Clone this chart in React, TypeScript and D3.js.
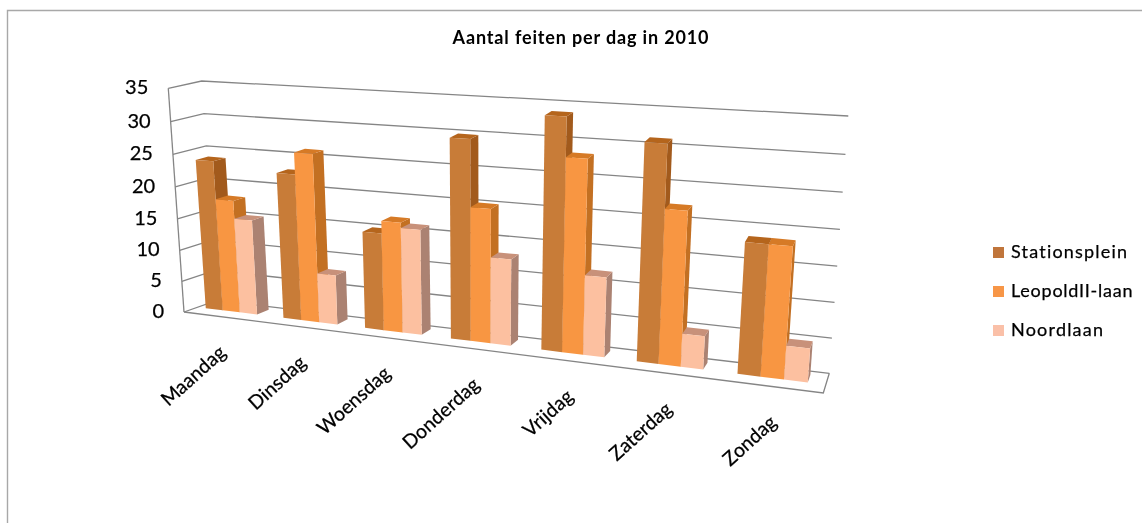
import React from "react";
import * as d3 from "d3";

const categories = ["Maandag", "Dinsdag", "Woensdag", "Donderdag", "Vrijdag", "Zaterdag", "Zondag"];
const seriesNames = ["Stationsplein", "LeopoldII-laan", "Noordlaan"];
const stationsplein = [23.7, 22.7, 14.9, 29.8, 33.8, 31, 18.5];
const leopold = [17.8, 26, 16.8, 20, 28.2, 22.1, 18.5];
const noordlaan = [15, 7.7, 16, 12.9, 11.7, 4.8, 4.8];
const seriesValues = [stationsplein, leopold, noordlaan];
const ticks = [0, 5, 10, 15, 20, 25, 30, 35];
const faceColors = ["#c87b37", "#f89642", "#fcc0a0"];
const sideColors = ["#a25a1c", "#c36f24", "#ab8272"];
const topColors = ["#b5651f", "#d67a26", "#c8917a"];
const legendColors = ["#c0753a", "#f79646", "#fac0a8"];
const labelFont = "Lato, 'Open Sans', sans-serif";

type Pt = [number, number];
// corners of the plot box: [x-fraction][value-fraction][depth]
const FBL: Pt = [184, 312], FBR: Pt = [823.3, 393], BBL: Pt = [217, 300.5], BBR: Pt = [829.3, 373.3];
const FTL: Pt = [168.3, 88.3], FTR: Pt = [843, 130], BTL: Pt = [201.7, 81], BTR: Pt = [848.3, 116];
const lerp = (a: Pt, b: Pt, f: number): Pt => [a[0] + (b[0] - a[0]) * f, a[1] + (b[1] - a[1]) * f];
const persp = (u: number, w: number) => u / (w - (w - 1) * u);

const valueScale = d3.scaleLinear().domain([0, 35]).range([0, 1]);
const project = (u: number, v: number, d: number): Pt => {
  const t = persp(u, 1.2);
  const f = persp(valueScale(v), 1.05);
  const fb = lerp(FBL, FBR, t), ft = lerp(FTL, FTR, t), bb = lerp(BBL, BBR, t), bt = lerp(BTL, BTR, t);
  return lerp(lerp(fb, ft, f), lerp(bb, bt, f), d);
};

const catScale = d3.scaleBand<string>().domain(categories).range([-0.009, 1]).paddingInner(0.334).paddingOuter(0.167);
const serScale = d3.scaleBand<string>().domain(seriesNames).range([0, catScale.bandwidth()]);
const D0 = 0.42, D1 = 0.8;
const poly = d3.line<Pt>().curve(d3.curveLinearClosed);
const GRID = "#858585";

export default function App() {
  return (
    <svg width={1142} height={523} style={{ position: "absolute", left: 0, top: 0, background: "#fff" }}>
      <defs>
        <filter id="soft" x="0" y="0" width="100%" height="100%" filterUnits="userSpaceOnUse">
          <feGaussianBlur stdDeviation={0.55} />
        </filter>
      </defs>
      <g filter="url(#soft)">
        <rect width={1142} height={523} fill="#fff" />
        <path d="M7.5,523V10.5H1142" fill="none" stroke="#a8a8a8" strokeWidth={1.4} />
        <text x={581} y={44} textAnchor="middle" fontFamily={labelFont} fontWeight={700} fontSize={18} letterSpacing={0.85} fill="#000">
          Aantal feiten per dag in 2010
        </text>
        {/* walls */}
        {ticks.map((t) => {
          const a = project(0, t, 0), b = project(0, t, 1), c = project(1, t, 1);
          return <path key={t} d={d3.line()([a, b, c]) as string} fill="none" stroke={GRID} strokeWidth={1.3} />;
        })}
        <path d={d3.line()([project(0, 0, 0), project(0, 35, 0)]) as string} stroke={GRID} strokeWidth={1.3} fill="none" />
        <path d={d3.line()([project(0, 0, 0), project(1, 0, 0), project(1, 0, 1)]) as string} stroke={GRID} strokeWidth={1.3} fill="none" />
        {/* bars */}
        {categories.map((c, ci) => (
          <g key={c}>
            {seriesNames.map((s, si) => {
              const u0 = (catScale(c) as number) + (serScale(s) as number);
              const u1 = u0 + serScale.bandwidth();
              const v = seriesValues[si][ci];
              const side = [project(u1, 0, D0), project(u1, 0, D1), project(u1, v, D1), project(u1, v, D0)] as Pt[];
              const top = [project(u0, v, D0), project(u1, v, D0), project(u1, v, D1), project(u0, v, D1)] as Pt[];
              const front = [project(u0, 0, D0), project(u1, 0, D0), project(u1, v, D0), project(u0, v, D0)] as Pt[];
              return (
                <g key={s}>
                  <path d={poly(side) as string} fill={sideColors[si]} />
                  <path d={poly(top) as string} fill={topColors[si]} />
                  <path d={poly(front) as string} fill={faceColors[si]} />
                </g>
              );
            })}
          </g>
        ))}
        {/* value axis */}
        {ticks.map((t) => {
          const p = project(0, t, 0);
          return (
            <text key={t} x={p[0] - 20} y={p[1] + 6} textAnchor="end" fontFamily={labelFont} fontSize={20} stroke="#000" strokeWidth={0.25} fill="#000">
              {t}
            </text>
          );
        })}
        {/* category axis */}
        {categories.map((c) => {
          const p = project((catScale(c) as number) + catScale.bandwidth() / 2, 0, 0);
          return (
            <text
              key={c}
              transform={`translate(${p[0] + 9},${p[1] + 38}) rotate(-42)`}
              textAnchor="end"
              fontFamily={labelFont}
              fontSize={19.5}
              stroke="#000"
              strokeWidth={0.25}
              fill="#000"
            >
              {c}
            </text>
          );
        })}
        {/* legend */}
        {seriesNames.map((s, i) => (
          <g key={s} transform={`translate(993,${247 + i * 39})`}>
            <rect width={11} height={11} fill={legendColors[i]} />
            <text x={18} y={11} fontFamily={labelFont} fontSize={18} letterSpacing={i === 1 ? 0.75 : 1.2} stroke="#000" strokeWidth={0.25} fill="#000">
              {s}
            </text>
          </g>
        ))}
      </g>
    </svg>
  );
}
